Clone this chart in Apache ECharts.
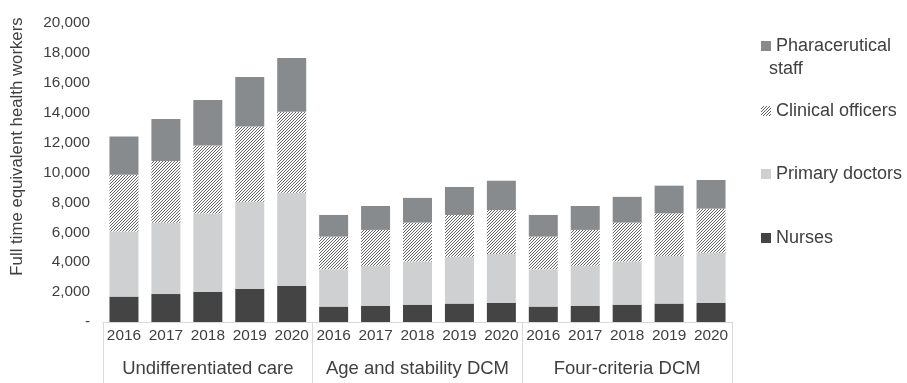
<!DOCTYPE html>
<html><head><meta charset="utf-8">
<script src="https://cdn.jsdelivr.net/npm/echarts@6/dist/echarts.min.js"></script>
<style>html,body{margin:0;padding:0;background:#fff}#c{width:907px;height:383px}</style>
</head><body><div id="c"></div>
<script>
var years = ['2016','2017','2018','2019','2020','2016','2017','2018','2019','2020','2016','2017','2018','2019','2020'];
var groups = ['Undifferentiated care','Age and stability DCM','Four-criteria DCM'];
var nurses   = [1700,1870,2010,2230,2430, 1030,1090,1160,1230,1270, 1030,1090,1160,1230,1270];
var doctors  = [4350,4770,5240,5820,6220, 2500,2680,2880,3140,3280, 2500,2680,2880,3190,3370];
var clinical = [3800,4130,4550,5020,5420, 2180,2390,2610,2790,2940, 2180,2390,2610,2850,2940];
var pharma   = [2560,2810,3050,3320,3590, 1450,1600,1650,1870,1960, 1450,1600,1720,1850,1920];
var yTicks = [0,2000,4000,6000,8000,10000,12000,14000,16000,18000,20000];

var FONT = '"Liberation Sans", Arial, sans-serif';
var TXT = '#404040';

function hatch(){
  var s = 3;
  var c = document.createElement('canvas');
  c.width = s; c.height = s;
  var g = c.getContext('2d');
  g.fillStyle = '#ffffff'; g.fillRect(0,0,s,s);
  g.strokeStyle = '#505050'; g.lineWidth = 0.9;
  g.beginPath();
  g.moveTo(-1,s+1); g.lineTo(s+1,-1);
  g.moveTo(-1,1); g.lineTo(1,-1);
  g.moveTo(s-1,s+1); g.lineTo(s+1,s-1);
  g.stroke();
  return {image:c, repeat:'repeat'};
}

var chart = echarts.init(document.getElementById('c'));
function legendAt(name, top, fmt){
  return {orient:'vertical', left:756, top:top, itemWidth:10, itemHeight:10, itemGap:10,
    icon:'rect', data:[name], selectedMode:false,
    formatter: fmt || function(n){return n;},
    textStyle:{fontSize:18, color:TXT, fontFamily:FONT}};
}
chart.setOption({
  animation:false,
  textStyle:{fontFamily:FONT},
  grid:{left:103, right:175, top:23, bottom:61},
  legend:[
    legendAt('Pharacerutical staff', 32, function(){return 'Pharacerutical';}),
    legendAt('Clinical officers', 97),
    legendAt('Primary doctors', 160),
    legendAt('Nurses', 224)
  ],
  graphic:[{type:'text', left:769, top:60, style:{text:'staff', font:'18px '+FONT, fill:TXT}}],
  xAxis:[
    {type:'category', data:years, position:'bottom',
     axisLine:{show:true, lineStyle:{color:'#d9d9d9', width:1}},
     axisTick:{show:false},
     axisLabel:{interval:0, margin:6, fontSize:15.4, color:TXT, fontFamily:FONT}},
    {type:'category', data:groups, position:'bottom', offset:0,
     axisLine:{show:true, lineStyle:{color:'#d9d9d9', width:1}},
     axisTick:{show:true, interval:0, length:61, lineStyle:{color:'#d9d9d9', width:1}},
     axisLabel:{interval:0, margin:37, fontSize:18.5, color:TXT, fontFamily:FONT}}
  ],
  yAxis:{type:'value', min:yTicks[0], max:yTicks[yTicks.length-1], interval:yTicks[1]-yTicks[0],
    name:'Full time equivalent health workers', nameLocation:'middle', nameGap:77,
    nameTextStyle:{fontSize:16.8, color:TXT, fontFamily:FONT, padding:[0,0,0,52]},
    axisLine:{show:false}, axisTick:{show:false}, splitLine:{show:false},
    axisLabel:{margin:13, fontSize:15.3, color:TXT, fontFamily:FONT,
      formatter:function(v){return v===0?'-':v.toLocaleString('en-US');}}},
  series:[
    {name:'Nurses', type:'bar', stack:'a', barWidth:29, data:nurses, itemStyle:{color:'#444444'}},
    {name:'Primary doctors', type:'bar', stack:'a', barWidth:29, data:doctors, itemStyle:{color:'#cfd0d2'}},
    {name:'Clinical officers', type:'bar', stack:'a', barWidth:29, data:clinical, itemStyle:{color:hatch()}},
    {name:'Pharacerutical staff', type:'bar', stack:'a', barWidth:29, data:pharma, itemStyle:{color:'#888b8d'}}
  ]
});
</script></body></html>
